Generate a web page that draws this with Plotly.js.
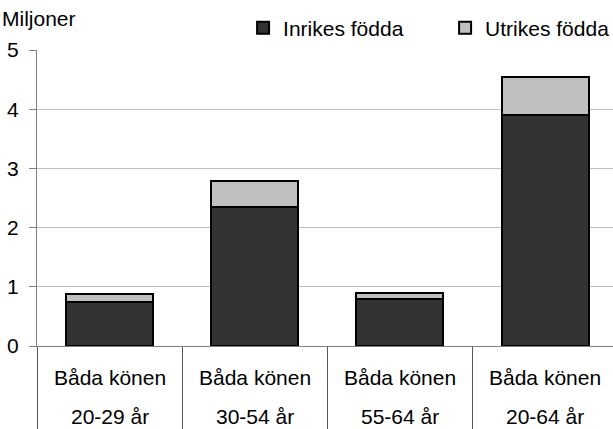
<!DOCTYPE html>
<html>
<head>
<meta charset="utf-8">
<script src="https://cdn.plot.ly/plotly-3.0.1.min.js"></script>
<style>html,body{margin:0;padding:0;background:#fff;}#chart{width:613px;height:429px;}</style>
</head>
<body>
<div id="chart"></div>
<script>
// Data (millions)
var categories = ["20-29 år", "30-54 år", "55-64 år", "20-64 år"];
var sexLabels = ["Båda könen", "Båda könen", "Båda könen", "Båda könen"];
var inrikes = [0.75, 2.34, 0.80, 3.90];
var utrikes = [0.13, 0.44, 0.09, 0.65];
var seriesNames = ["Inrikes födda", "Utrikes födda"];
var yTicks = [0, 1, 2, 3, 4, 5];
var unitLabel = "Miljoner";

var FONT = "Liberation Sans, Arial, sans-serif";
var FS = 21;

var traces = [
  {
    type: "bar", name: seriesNames[0], x: categories, y: inrikes,
    marker: {color: "#333333", line: {color: "#000000", width: 2}}
  },
  {
    type: "bar", name: seriesNames[1], x: categories, y: utrikes,
    marker: {color: "#c0c0c0", line: {color: "#000000", width: 2}}
  }
];

var annotations = [
  {xref: "paper", yref: "paper", x: -37/576, y: 1 + 31/296, xanchor: "left", yanchor: "middle",
   text: unitLabel, showarrow: false, font: {family: FONT, size: FS, color: "#000"}}
];
categories.forEach(function (c, i) {
  annotations.push({xref: "x", yref: "paper", x: c, y: -31/296, xanchor: "center", yanchor: "middle",
    text: sexLabels[i], showarrow: false, font: {family: FONT, size: FS, color: "#000"}});
  annotations.push({xref: "x", yref: "paper", x: c, y: -83/296, xanchor: "center", yanchor: "bottom",
    borderpad: 0, text: c, showarrow: false, font: {family: FONT, size: FS, color: "#000"}});
});

var layout = {
  width: 613, height: 429,
  margin: {l: 37, r: 0, t: 50, b: 83, pad: 0, autoexpand: false},
  paper_bgcolor: "#ffffff", plot_bgcolor: "#ffffff",
  barmode: "stack", bargap: 0.4,
  font: {family: FONT, size: FS, color: "#000"},
  showlegend: true,
  legend: {orientation: "h", traceorder: "normal", x: 0.3578, xanchor: "left", y: 1 + 22/296, yanchor: "middle",
           font: {family: FONT, size: FS, color: "#000"}, bgcolor: "rgba(0,0,0,0)",
           entrywidth: 157, entrywidthmode: "pixels", itemclick: false, itemdoubleclick: false},
  xaxis: {
    type: "category", range: [-0.5, 3.468], fixedrange: true,
    showticklabels: false, ticks: "outside", tickson: "boundaries", ticklen: 83,
    tickcolor: "#555555", tickwidth: 1, showgrid: false,
    showline: true, linecolor: "#808080", linewidth: 1, zeroline: false
  },
  yaxis: {
    range: [0, 5], tickvals: yTicks, ticktext: yTicks.map(String), fixedrange: true,
    ticks: "outside", ticklen: 7, tickcolor: "#808080", ticklabelstandoff: 6,
    tickfont: {family: FONT, size: FS, color: "#000"},
    showgrid: true, gridcolor: "#c0c0c0", gridwidth: 1,
    showline: true, linecolor: "#808080", linewidth: 1, zeroline: false
  },
  annotations: annotations
};

Plotly.newPlot("chart", traces, layout, {displayModeBar: false, staticPlot: true});
</script>
</body>
</html>
